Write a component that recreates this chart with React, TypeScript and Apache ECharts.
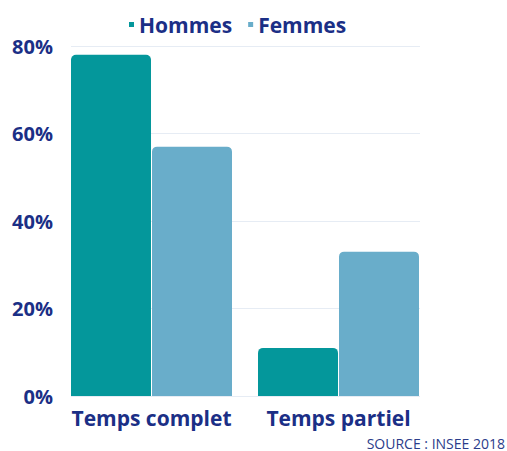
import React, { useEffect, useRef } from "react";
import * as echarts from "echarts";

const categories = ["Temps complet", "Temps partiel"];
const hommes = [78, 11];
const femmes = [57, 33];
const yTicks = [0, 20, 40, 60, 80];

const NAVY = "#1b2f86";
const TEAL = "#04979b";
const LIGHT = "#69adca";
const FONT = "'Open Sans', 'Noto Sans', sans-serif";

export default function App() {
  const ref = useRef<HTMLDivElement>(null);
  useEffect(() => {
    document.body.style.margin = "0";
    if (!ref.current) return;
    const chart = echarts.init(ref.current, null, { renderer: "svg" });
    chart.setOption({
      animation: false,
      backgroundColor: "#ffffff",
      legend: {
        data: ["Hommes", "Femmes"],
        top: 9,
        left: 124,
        icon: "rect",
        itemWidth: 5,
        itemHeight: 5,
        itemGap: 16,
        textStyle: { color: NAVY, fontFamily: FONT, fontWeight: "bold", fontSize: 21, padding: [0, 0, 0, 0] },
      },
      grid: [
        { left: 58, width: 374, top: 46, height: 350 },
        { left: 71, width: 349, top: 46, height: 350 },
      ],
      xAxis: [
        {
          type: "category",
          gridIndex: 0,
          data: categories,
          axisLine: { show: false },
          axisTick: { show: false },
          axisLabel: { interval: 0, color: NAVY, fontFamily: FONT, fontWeight: "bold", fontSize: 21, margin: 11 },
        },
        {
          type: "category",
          gridIndex: 1,
          data: [""],
          show: false,
        },
      ],
      yAxis: [
        {
          type: "value",
          gridIndex: 0,
          min: yTicks[0],
          max: yTicks[yTicks.length - 1],
          interval: 20,
          splitLine: { show: false },
          axisLine: { show: false },
          axisTick: { show: false },
          axisLabel: {
            formatter: "{value}%",
            color: NAVY,
            fontFamily: FONT,
            fontWeight: "bold",
            fontSize: 20,
            margin: 5,
          },
        },
        {
          type: "value",
          gridIndex: 1,
          min: yTicks[0],
          max: yTicks[yTicks.length - 1],
          interval: 20,
          axisLabel: { show: false },
          axisLine: { show: false },
          axisTick: { show: false },
          splitLine: { show: true, lineStyle: { color: "#e6ecf4", width: 1 } },
        },
      ],
      series: [
        {
          name: "Hommes",
          type: "bar",
          xAxisIndex: 0,
          yAxisIndex: 0,
          data: hommes,
          barWidth: 80,
          barGap: "1.25%",
          itemStyle: { color: TEAL, borderRadius: [5, 5, 0, 0] },
        },
        {
          name: "Femmes",
          type: "bar",
          xAxisIndex: 0,
          yAxisIndex: 0,
          data: femmes,
          barWidth: 80,
          barGap: "1.25%",
          itemStyle: { color: LIGHT, borderRadius: [5, 5, 0, 0] },
        },
        {
          type: "bar",
          xAxisIndex: 1,
          yAxisIndex: 1,
          data: [],
          silent: true,
        },
      ],
      graphic: [
        {
          type: "text",
          right: 2,
          top: 436,
          style: { text: "SOURCE : INSEE 2018", fill: "#2b3c8a", font: `14px ${FONT}` },
        },
      ],
    });
    return () => chart.dispose();
  }, []);
  return <div ref={ref} style={{ width: 507, height: 451 }} />;
}
